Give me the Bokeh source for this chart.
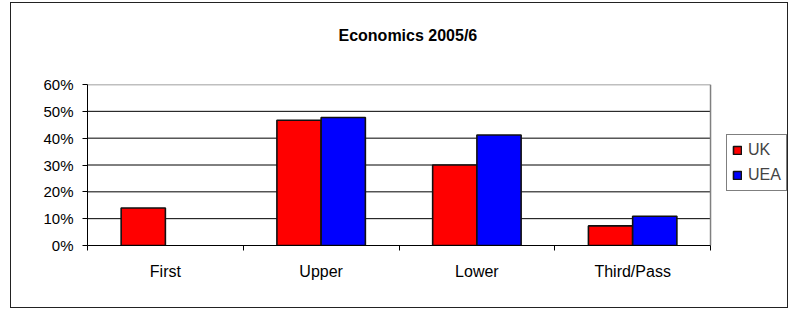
from bokeh.plotting import figure
from bokeh.models import (Range1d, FixedTicker, NumeralTickFormatter, Legend, LegendItem,
                          ColumnDataSource, Title)
from bokeh.embed import file_html
from bokeh.resources import INLINE

categories = ["First", "Upper", "Lower", "Third/Pass"]
uk = [0.14, 0.467, 0.30, 0.073]
uea = [float("nan"), 0.477, 0.412, 0.109]
y_ticks = [0, 0.1, 0.2, 0.3, 0.4, 0.5, 0.6]

FONT = "Liberation Sans"
bar_w = 0.284
n = len(categories)
# x extent including the room on the right of the category area for the legend
legend_room = 4.507

idx = list(range(n))
centers = [i + 0.5 for i in idx]
src_uk = ColumnDataSource(dict(x=[c - bar_w / 2 for c in centers], top=uk))
src_uea = ColumnDataSource(dict(x=[c + bar_w / 2 for c in centers], top=uea))

p = figure(width=778, height=306, output_backend="svg", toolbar_location=None,
           x_range=Range1d(0, legend_room), y_range=Range1d(0, 0.6),
           min_border_left=76, min_border_right=0, min_border_top=81, min_border_bottom=64,
           styles={"border": "1px solid #222", "margin": "2px 0px 0px 10px"})

# gridlines restricted to the category area
grid_y = y_ticks[1:-1]
p.segment(x0=[0] * len(grid_y), x1=[n] * len(grid_y), y0=grid_y, y1=grid_y,
          line_color="#000000", line_width=1)
# plot-area outline (top and right), grey
p.segment(x0=[0, n], x1=[n, n], y0=[y_ticks[-1], 0], y1=[y_ticks[-1], y_ticks[-1]],
          line_color="#808080", line_width=1.5)

r1 = p.vbar(x="x", top="top", width=bar_w, source=src_uk, fill_color="#ff0000",
            line_color="#111111", line_width=1.6)
r2 = p.vbar(x="x", top="top", width=bar_w, source=src_uea, fill_color="#0000ff",
            line_color="#111111", line_width=1.6)

# real title (outermost) and a spacer between it and the plot area
p.title = Title(text="Economics 2005/6", align="left", text_font=FONT,
                text_font_size="16px", text_font_style="bold", text_color="#000000",
                standoff=0, offset=251)
p.add_layout(Title(text=" ", text_font=FONT, text_font_size="16px", standoff=22), "above")

# y axis
p.yaxis.ticker = FixedTicker(ticks=y_ticks)
p.yaxis.formatter = NumeralTickFormatter(format="0%")
p.yaxis.major_label_text_font = FONT
p.yaxis.major_label_text_font_size = "15px"
p.yaxis.major_label_text_color = "#000000"
p.yaxis.major_tick_out = 5
p.yaxis.major_tick_in = 0
p.yaxis.minor_tick_line_color = None
p.yaxis.axis_line_color = "#000000"
p.yaxis.major_tick_line_color = "#000000"
p.yaxis.major_label_standoff = 9

# x axis
p.xaxis.ticker = FixedTicker(ticks=centers, minor_ticks=list(range(n + 1)))
p.xaxis.major_label_overrides = {c: categories[i] for i, c in enumerate(centers)}
p.xaxis.bounds = (0, n)
p.xaxis.major_label_text_font = FONT
p.xaxis.major_label_text_font_size = "16px"
p.xaxis.major_label_text_color = "#000000"
p.xaxis.major_tick_line_color = None
p.xaxis.major_tick_out = 0
p.xaxis.major_tick_in = 0
p.xaxis.minor_tick_out = 5
p.xaxis.minor_tick_in = 0
p.xaxis.minor_tick_line_color = "#000000"
p.xaxis.axis_line_color = "#000000"
p.xaxis.major_label_standoff = 12

p.xgrid.grid_line_color = None
p.ygrid.grid_line_color = None
p.outline_line_color = None

legend = Legend(items=[LegendItem(label="UK", renderers=[r1]),
                       LegendItem(label="UEA", renderers=[r2])],
                location=(639, 54), glyph_width=10, glyph_height=10,
                label_text_font=FONT, label_text_font_size="16px",
                label_height=20, label_standoff=6, padding=5, spacing=5, margin=0,
                border_line_color="#000000", border_line_width=1)
p.add_layout(legend, "center")

open("out.html", "w").write(file_html(p, INLINE))
